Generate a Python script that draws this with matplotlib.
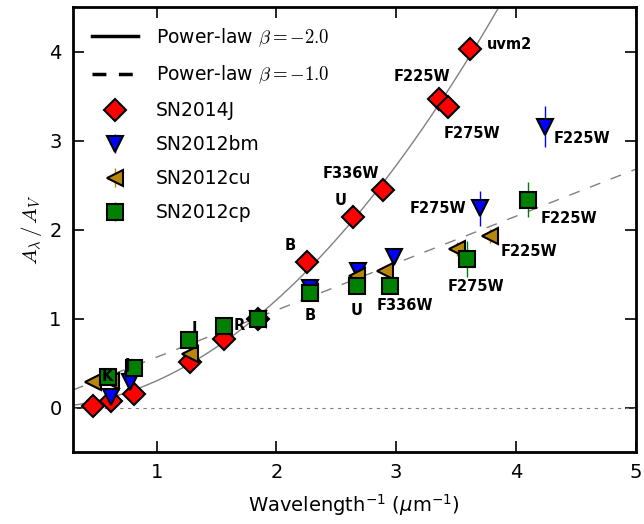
import numpy as np
import matplotlib
matplotlib.use("Agg")
import matplotlib.pyplot as plt

# SN2014J
x_14j = [0.47, 0.62, 0.81, 1.28, 1.56, 1.85, 2.26, 2.64, 2.89, 3.36, 3.43, 3.62]
y_14j = [0.02, 0.07, 0.15, 0.51, 0.77, 1.00, 1.64, 2.14, 2.45, 3.47, 3.38, 4.03]
e_14j = [0.03, 0.03, 0.03, 0.04, 0.04, 0.04, 0.05, 0.05, 0.05, 0.08, 0.08, 0.10]
lab_14j = ["", "", "", "", "", "", "B", "U", "F336W", "F225W", "F275W", "uvm2"]

# SN2012bm
x_bm = [0.62, 0.78, 1.85, 2.28, 2.68, 2.98, 3.70, 4.24]
y_bm = [0.12, 0.29, 1.00, 1.35, 1.54, 1.69, 2.24, 3.16]
e_bm = [0.08, 0.08, 0.05, 0.05, 0.05, 0.05, 0.20, 0.23]
lab_bm = ["", "", "", "", "", "", "F275W", "F225W"]

# SN2012cu
x_cu = [0.47, 0.62, 1.28, 1.85, 2.28, 2.67, 2.91, 3.51, 3.78]
y_cu = [0.29, 0.30, 0.60, 1.00, 1.30, 1.48, 1.54, 1.78, 1.93]
e_cu = [0.05, 0.05, 0.04, 0.04, 0.04, 0.04, 0.05, 0.08, 0.08]
lab_cu = ["", "", "", "", "", "", "", "", "F225W"]

# SN2012cp
x_cp = [0.59, 0.81, 1.27, 1.56, 1.85, 2.28, 2.67, 2.95, 3.59, 4.10]
y_cp = [0.35, 0.45, 0.76, 0.92, 1.00, 1.29, 1.37, 1.37, 1.67, 2.34]
e_cp = [0.08, 0.08, 0.06, 0.05, 0.04, 0.05, 0.05, 0.05, 0.20, 0.20]
lab_cp = ["K", "J", "I", "R", "", "B", "U", "F336W", "F275W", "F225W"]

# label offsets in pixels
off_14j = {"B": (-17, 16), "U": (-12, 17), "F336W": (-32, 16), "F225W": (-17, 22),
           "F275W": (24, -27), "uvm2": (39, 5)}
off_bm = {"F275W": (-42, 0), "F225W": (37, -12)}
off_cu = {"F225W": (39, -15)}
off_cp = {"K": (0, 0), "J": (-6, 2), "I": (5, 12), "R": (16, 0), "B": (0, -23), "U": (0, -25),
          "F336W": (15, -20), "F275W": (9, -27), "F225W": (41, -19)}

fig = plt.figure(figsize=(6.44, 5.24), dpi=100)
ax = fig.add_axes([0.113, 0.137, 0.874, 0.849])

xx = np.linspace(0.3, 5, 300)
xv = 1 / 0.55
ax.plot(xx, (xx / xv) ** 2, color="gray", lw=1)
ax.plot(xx, 1 - 0.96 + 0.96 * (xx / xv), color="gray", lw=1, ls=(0, (8, 8)))
ax.axhline(0, color="gray", lw=0.8, ls=(0, (3, 4)))

# legend proxies
ax.plot([], [], color="k", lw=2.5, label=r"Power-law $\beta=-2.0$")
ax.plot([], [], color="k", lw=2.5, ls=(0, (4, 3.6)), label=r"Power-law $\beta=-1.0$")

sets = [
    (x_14j, y_14j, e_14j, lab_14j, off_14j, "D", "red", 11, "SN2014J"),
    (x_bm, y_bm, e_bm, lab_bm, off_bm, "v", "blue", 11, "SN2012bm"),
    (x_cu, y_cu, e_cu, lab_cu, off_cu, "<", "#b8860b", 11, "SN2012cu"),
    (x_cp, y_cp, e_cp, lab_cp, off_cp, "s", "green", 11, "SN2012cp"),
]
for xs, ys, es, labs, offs, mk, col, ms, name in sets:
    ax.errorbar(xs, ys, yerr=es, fmt=mk, color=col, ecolor=col, elinewidth=1,
                mfc=col, mec="k", mew=1.5, ms=ms, capsize=0, label=name, zorder=3)
    for xi, yi, lb in zip(xs, ys, labs):
        if lb:
            dx, dy = offs[lb]
            ax.annotate(lb, (xi, yi), xytext=(dx, dy), textcoords="offset pixels",
                        ha="center", va="center", fontsize=10.5, fontweight="bold", zorder=4)

ax.set_xlim(0.3, 5)
ax.set_ylim(-0.5, 4.5)
ax.set_xticks([1, 2, 3, 4, 5])
ax.set_yticks([0, 1, 2, 3, 4])
ax.tick_params(direction="in", length=8, width=1.2, top=True, right=True, labelsize=14, pad=8)
for s in ax.spines.values():
    s.set_linewidth(2)
ax.set_xlabel(r"Wavelength$^{-1}$ ($\mu$m$^{-1}$)", fontsize=14, labelpad=7)
ylab = ax.set_ylabel(r"$A_\lambda\,/\,A_V$", fontsize=15)
ylab.set_math_fontfamily("cm")

leg = ax.legend(loc="upper left", frameon=False, fontsize=13.5, numpoints=1, handlelength=2.5,
                handletextpad=0.95, borderaxespad=0.5, borderpad=0.5, labelspacing=0.8)
for t in leg.get_texts():
    t.set_math_fontfamily("cm")

fig.savefig("out.png", dpi=100)
